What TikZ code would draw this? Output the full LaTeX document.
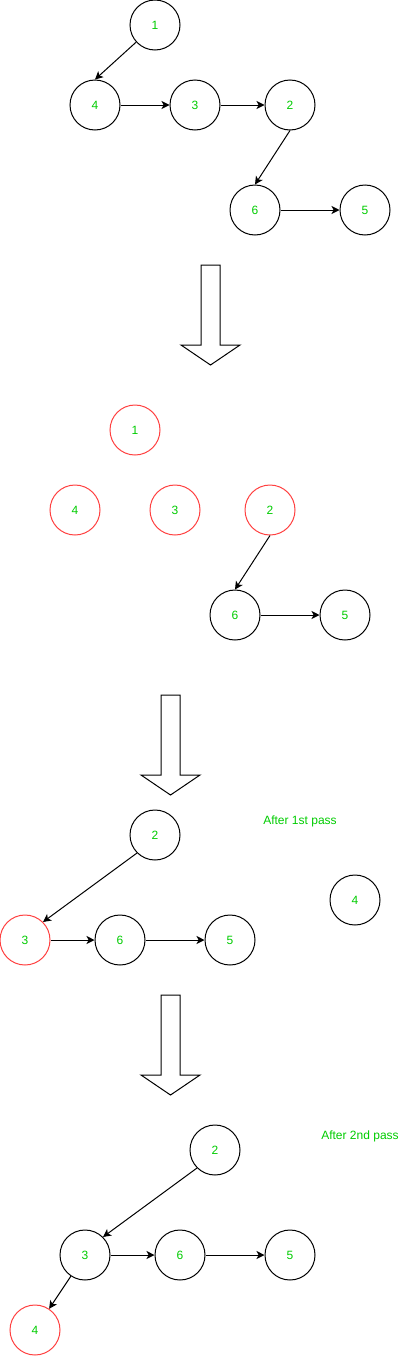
\documentclass[tikz,border=0pt]{standalone}
\usepackage{fontspec}
\setmainfont{Liberation Sans}
\usetikzlibrary{arrows.meta}
\definecolor{gr}{HTML}{00CC00}
\definecolor{rd}{HTML}{FF4040}
\begin{document}
\begin{tikzpicture}[x=0.75pt,y=-0.75pt,
  vtx/.style={circle,draw=black,line width=0.75pt,minimum size=37.5pt,inner sep=0pt,text=gr,font=\fontsize{9}{10}\selectfont},
  rvtx/.style={vtx,draw=rd},
  edge/.style={-{Stealth[length=6pt,width=6pt,inset=1.6pt]},line width=0.75pt,black},
  lbl/.style={text=gr,font=\fontsize{9}{10}\selectfont,inner sep=0pt},
  bigarrow/.style={draw=black,line width=0.75pt,fill=white}]
\useasboundingbox (0,0) rectangle (401,1356);
% section 1
\node[vtx] (a1) at (155,25) {1};
\node[vtx] (a4) at (95,105) {4};
\node[vtx] (a3) at (195,105) {3};
\node[vtx] (a2) at (290,105) {2};
\node[vtx] (a6) at (255,210) {6};
\node[vtx] (a5) at (365,210) {5};
\draw[edge] (a1) -- (a4.north);
\draw[edge] (a4) -- (a3);
\draw[edge] (a3) -- (a2);
\draw[edge] (a2.south) -- (a6.north);
\draw[edge] (a6) -- (a5);
% big arrow 1
\draw[bigarrow] (201,265) -- (220,265) -- (220,345) -- (240,345) -- (210.5,365) -- (181,345) -- (201,345) -- cycle;
% section 2
\node[rvtx] (b1) at (135,430) {1};
\node[rvtx] (b4) at (75,510) {4};
\node[rvtx] (b3) at (175,510) {3};
\node[rvtx] (b2) at (270,510) {2};
\node[vtx] (b6) at (235,615) {6};
\node[vtx] (b5) at (345,615) {5};
\draw[edge] (b2.south) -- (b6.north);
\draw[edge] (b6) -- (b5);
% big arrow 2
\draw[bigarrow] (161,695) -- (180,695) -- (180,775) -- (200,775) -- (170.5,795) -- (141,775) -- (161,775) -- cycle;
% section 3
\node[vtx] (c2) at (155,835) {2};
\node[rvtx] (c3) at (25,940) {3};
\node[vtx] (c6) at (120,940) {6};
\node[vtx] (c5) at (230,940) {5};
\node[vtx] (c4) at (355,900) {4};
\node[lbl] (t1) at (300,821) {After 1st pass};
\draw[edge] (c2.south west) -- (c3.north east);
\draw[edge] (c3) -- (c6);
\draw[edge] (c6) -- (c5);
% big arrow 3
\draw[bigarrow] (161,995) -- (180,995) -- (180,1075) -- (200,1075) -- (170.5,1095) -- (141,1075) -- (161,1075) -- cycle;
% section 4
\node[vtx] (d2) at (215,1150) {2};
\node[vtx] (d3) at (85,1255) {3};
\node[vtx] (d6) at (180,1255) {6};
\node[vtx] (d5) at (290,1255) {5};
\node[rvtx] (d4) at (35,1330) {4};
\node[lbl] (t2) at (360,1136) {After 2nd pass};
\draw[edge] (d2.south west) -- (d3.north east);
\draw[edge] (d3) -- (d6);
\draw[edge] (d6) -- (d5);
\draw[edge] (d3) -- (d4);
\end{tikzpicture}
\end{document}
